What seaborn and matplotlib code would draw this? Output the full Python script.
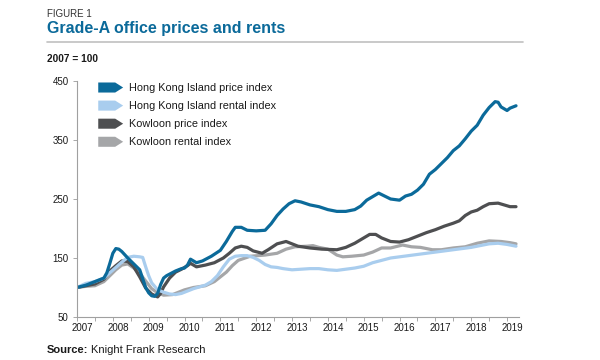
import numpy as np
import pandas as pd
import matplotlib
matplotlib.use("Agg")
import matplotlib.pyplot as plt
import matplotlib.patches as mpatches
from matplotlib.legend_handler import HandlerPatch
import seaborn as sns

# ---------------- data (month index from Jan 2007) ----------------
series_names = ["Hong Kong Island price index", "Hong Kong Island rental index",
                "Kowloon price index", "Kowloon rental index"]

hk_price_m = [0, 3, 6, 9, 10, 11, 12, 13, 14, 15, 17, 19, 21, 22, 23, 24, 25, 26, 27, 28, 29, 30,
              33, 35, 36, 37, 38, 39, 40, 42, 45, 48, 50, 52, 53, 55, 57, 60, 63, 65, 67, 69, 71,
              73, 75, 78, 81, 84, 87, 90, 93, 95, 97, 99, 101, 103, 105, 108, 110, 112, 114, 116,
              118, 120, 122, 124, 126, 128, 130, 132, 134, 136, 138, 140, 141, 142, 144, 145, 147]
hk_price_v = [100, 104, 110, 116, 125, 141, 158, 166, 165, 161, 150, 140, 130, 115, 100, 91, 86, 85,
              90, 105, 116, 120, 128, 132, 133, 138, 148, 145, 142, 145, 153, 163, 178, 195, 202,
              202, 197, 196, 197, 208, 222, 233, 242, 247, 245, 240, 237, 232, 229, 229, 232, 238,
              248, 254, 260, 255, 250, 248, 255, 258, 265, 275, 292, 300, 310, 320, 332, 340, 352,
              365, 375, 392, 405, 415, 414, 406, 400, 404, 408]

hk_rent_m = [0, 3, 6, 9, 11, 13, 15, 17, 19, 21, 22, 23, 24, 25, 27, 29, 31, 33, 35, 37, 39, 41, 43,
             45, 47, 49, 51, 53, 55, 57, 59, 61, 63, 65, 67, 69, 72, 75, 78, 81, 84, 87, 90, 93,
             96, 99, 102, 105, 108, 111, 114, 117, 120, 123, 126, 129, 132, 135, 138, 141, 144, 147]
hk_rent_v = [100, 107, 110, 116, 125, 134, 143, 151, 153, 152, 151, 135, 120, 108, 96, 92, 89, 88,
             90, 94, 98, 101, 104, 110, 120, 135, 148, 153, 154, 154, 151, 146, 139, 135, 134, 132,
             130, 131, 132, 132, 130, 129, 131, 133, 136, 142, 146, 150, 152, 154, 156, 158, 160,
             162, 164, 166, 168, 171, 174, 175, 173, 170]

kl_price_m = [0, 3, 6, 9, 11, 13, 15, 17, 19, 21, 23, 25, 27, 28, 29, 31, 33, 35, 37, 38, 40, 43,
              46, 49, 51, 53, 55, 57, 59, 62, 64, 67, 70, 72, 74, 78, 82, 87, 90, 93, 96, 98, 100,
              102, 105, 108, 111, 114, 117, 120, 123, 126, 128, 130, 132, 134, 136, 138, 141, 143,
              145, 147]
kl_price_v = [100, 103, 106, 114, 128, 137, 145, 144, 135, 118, 99, 89, 84, 90, 101, 116, 126, 131,
              137, 141, 135, 138, 142, 150, 158, 167, 170, 168, 162, 158, 164, 174, 178, 174, 170,
              167, 165, 164, 168, 175, 184, 190, 190, 184, 178, 177, 181, 187, 193, 198, 204, 209,
              213, 222, 228, 231, 237, 242, 243, 240, 237, 237]

kl_rent_m = [0, 3, 6, 9, 11, 13, 15, 17, 19, 21, 23, 25, 27, 29, 32, 36, 39, 43, 46, 48, 50, 52, 54,
             58, 63, 67, 70, 73, 77, 79, 81, 84, 87, 89, 92, 96, 99, 102, 105, 109, 112, 115, 119,
             122, 126, 130, 134, 138, 142, 145, 147]
kl_rent_v = [100, 102, 103, 110, 120, 130, 138, 140, 133, 124, 111, 98, 91, 87, 88, 96, 100, 103,
             110, 118, 126, 137, 146, 153, 155, 158, 165, 169, 170, 171, 168, 165, 155, 152, 153,
             155, 160, 167, 167, 172, 169, 168, 164, 164, 167, 169, 175, 179, 178, 176, 174]

years = ["2007", "2008", "2009", "2010", "2011", "2012", "2013", "2014", "2015", "2016",
         "2017", "2018", "2019"]
y_ticks = [50, 150, 250, 350, 450]

colors = ["#0b6a9a", "#a9cdee", "#4e4f51", "#a5a6a8"]

# ---------------- build frame ----------------
frames = []
for name, m, v in zip(series_names,
                      [hk_price_m, hk_rent_m, kl_price_m, kl_rent_m],
                      [hk_price_v, hk_rent_v, kl_price_v, kl_rent_v]):
    frames.append(pd.DataFrame({"month": m, "value": v, "series": name}))
df = pd.concat(frames, ignore_index=True)

sns.set_theme(style="white")
plt.rcParams["font.family"] = ["Liberation Sans", "DejaVu Sans"]
txt = "#1a1a1a"

fig = plt.figure(figsize=(6, 3.6), dpi=100)
ax = fig.add_axes([77 / 600, 1 - 317 / 360, 442 / 600, 236 / 360])

# draw in reverse order so HK price is on top
order = series_names[::-1]
pal = dict(zip(series_names, colors))
for name in order:
    sub = df[df["series"] == name]
    sns.lineplot(data=sub, x="month", y="value", color=pal[name], lw=2.3,
                 ax=ax, legend=False, sort=False, estimator=None,
                 solid_capstyle="round", solid_joinstyle="round")

ax.set_xlim(0, 148)
ax.set_ylim(50, 450)
ax.set_xlabel("")
ax.set_ylabel("")

ax.set_yticks(y_ticks)
ax.set_yticklabels([str(t) for t in y_ticks])
ax.set_xticks([12 * i + 1.7 for i in range(len(years))])
ax.set_xticklabels(years)
ax.set_xticks(list(range(0, 148, 6)), minor=True)
ax.tick_params(axis="x", which="major", length=0, pad=4, labelsize=7, colors=txt)
ax.tick_params(axis="x", which="minor", length=3, width=0.6, color="#9a9a9a", direction="out",
               bottom=True)
ax.tick_params(axis="y", which="major", length=3, width=0.6, color="#9a9a9a", direction="out",
               left=True, pad=3, labelsize=7, labelcolor=txt)

for s in ["top", "right"]:
    ax.spines[s].set_visible(False)
for s in ["left", "bottom"]:
    ax.spines[s].set_color("#a0a0a0")
    ax.spines[s].set_linewidth(0.8)


# legend with arrow-shaped patches
def arrow_patch(legend, orig_handle, xdescent, ydescent, width, height, fontsize):
    x0, y0 = -xdescent, -ydescent
    tip = width * 0.68
    pts = [(x0, y0), (x0 + tip, y0), (x0 + width, y0 + height / 2),
           (x0 + tip, y0 + height), (x0, y0 + height)]
    return mpatches.Polygon(pts, closed=True)


handles = [mpatches.Patch(facecolor=c, edgecolor="none", label=n)
           for n, c in zip(series_names, colors)]
leg = ax.legend(handles=handles, loc="upper left", bbox_to_anchor=(0.026, 1.035),
                frameon=False, fontsize=7.8, handlelength=2.3, handleheight=1.05,
                handletextpad=0.5, labelspacing=0.68,
                handler_map={mpatches.Patch: HandlerPatch(patch_func=arrow_patch)})
for t in leg.get_texts():
    t.set_color(txt)

# header texts
fig.text(47 / 600, 1 - 14 / 360, "FIGURE 1", fontsize=7, color="#333333", va="center",
         ha="left")
fig.text(47 / 600, 1 - 29 / 360, "Grade-A office prices and rents", fontsize=11.5,
         fontweight="bold", color="#0b6a9a", va="center", ha="left")
fig.add_artist(plt.Line2D([47 / 600, 523 / 600], [1 - 42 / 360, 1 - 42 / 360],
                          color="#c0c0c0", lw=1.2, transform=fig.transFigure))
fig.text(47 / 600, 1 - 58.5 / 360, "2007 = 100", fontsize=7.3, fontweight="bold", color=txt,
         va="center", ha="left")
src = fig.text(47 / 600, 1 - 353 / 360, "Source:", fontsize=8, fontweight="bold", color=txt,
               va="baseline", ha="left")
fig.canvas.draw()
fig.text(0, 0, "Knight Frank Research", fontsize=8, color=txt, va="baseline", ha="left",
         transform=src.get_transform() + matplotlib.transforms.ScaledTranslation(
             src.get_window_extent().width / 100 + 0.025, 0, fig.dpi_scale_trans),
         position=src.get_position())

fig.savefig("out.png", dpi=100, facecolor="white")
